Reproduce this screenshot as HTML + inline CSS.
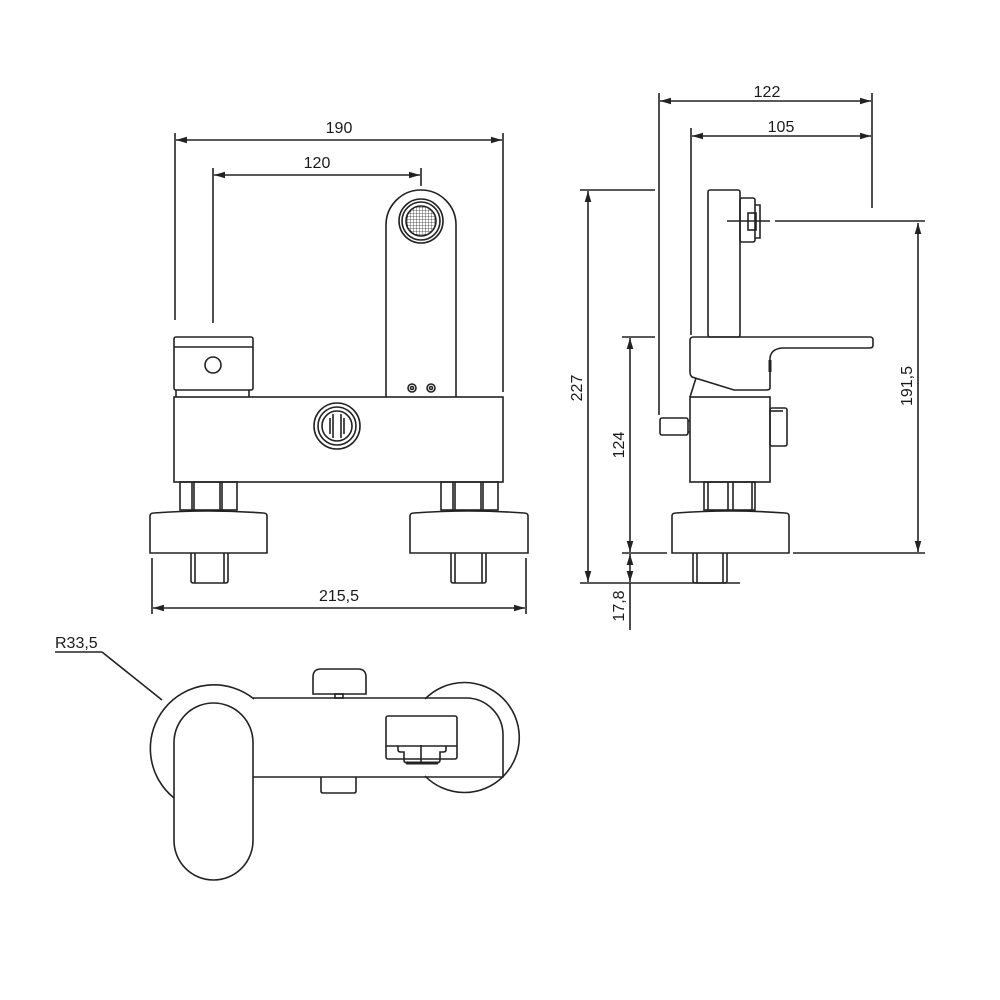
<!DOCTYPE html>
<html><head><meta charset="utf-8"><style>
html,body{margin:0;padding:0;background:#fff;}
svg{display:block;}
text{font-family:"Liberation Sans",sans-serif;font-size:16px;fill:#1a1a1a;}
</style></head><body>
<svg width="1000" height="1000" viewBox="0 0 1000 1000" xmlns="http://www.w3.org/2000/svg">
<defs>
<marker id="a" viewBox="0 0 10 10" refX="10" refY="5" markerWidth="7" markerHeight="7" orient="auto-start-reverse"><path d="M0,2 L10,5 L0,8 z" fill="#222"/></marker>
<pattern id="g" width="3" height="3" patternUnits="userSpaceOnUse"><path d="M0,0H3V3" fill="none" stroke="#333" stroke-width="0.8"/></pattern>
</defs>
<g fill="none" stroke="#222" stroke-width="1.6">
<line x1="175" y1="133" x2="175" y2="320"/>
<line x1="503" y1="133" x2="503" y2="392"/>
<line x1="176" y1="140" x2="502" y2="140" marker-start="url(#a)" marker-end="url(#a)"/>
<line x1="213" y1="168" x2="213" y2="323"/>
<line x1="421" y1="168" x2="421" y2="186"/>
<line x1="214" y1="175" x2="420" y2="175" marker-start="url(#a)" marker-end="url(#a)"/>
<line x1="152" y1="558" x2="152" y2="614"/>
<line x1="526" y1="558" x2="526" y2="614"/>
<line x1="153" y1="608" x2="525" y2="608" marker-start="url(#a)" marker-end="url(#a)"/>
<rect x="174" y="337" width="79" height="53" rx="2"/>
<line x1="174" y1="347" x2="253" y2="347"/>
<path d="M176,390 V397 M249,390 V397"/>
<circle cx="213" cy="365" r="8"/>
<path d="M386,397 V225 A35,35 0 0 1 456,225 V397"/>
<circle cx="421" cy="221" r="22"/>
<circle cx="421" cy="221" r="19"/>
<circle cx="421" cy="221" r="15" fill="url(#g)"/>
<circle cx="412" cy="388" r="4"/><circle cx="412" cy="388" r="1.5"/>
<circle cx="431" cy="388" r="4"/><circle cx="431" cy="388" r="1.5"/>
<rect x="174" y="397" width="329" height="85"/>
<circle cx="337" cy="426" r="23"/>
<circle cx="337" cy="426" r="19"/>
<circle cx="337" cy="426" r="15"/>
<path d="M333,414 V438 M341,414 V438 M330,418 V434 M344,418 V434"/>
<rect x="180" y="482" width="57" height="28"/>
<path d="M192,482 V510 M194,482 V510 M220,482 V510 M222,482 V510"/>
<rect x="441" y="482" width="57" height="28"/>
<path d="M453,482 V510 M455,482 V510 M481,482 V510 M483,482 V510"/>
<path d="M150,553 V516 Q150,513 154,513 Q208,509 263,513 Q267,513 267,516 V553 Z"/>
<path d="M410,553 V516 Q410,513 414,513 Q469,509 524,513 Q528,513 528,516 V553 Z"/>
<path d="M191,553 V581 Q191,583 194,583 H225 Q228,583 228,581 V553 M195,553 V583 M224,553 V583"/>
<path d="M451,553 V581 Q451,583 454,583 H483 Q486,583 486,581 V553 M455,553 V583 M482,553 V583"/>
<line x1="659" y1="93" x2="659" y2="415"/>
<line x1="872" y1="93" x2="872" y2="208"/>
<line x1="660" y1="101" x2="871" y2="101" marker-start="url(#a)" marker-end="url(#a)"/>
<line x1="691" y1="128" x2="691" y2="335"/>
<line x1="692" y1="136" x2="871" y2="136" marker-start="url(#a)" marker-end="url(#a)"/>
<line x1="580" y1="190" x2="655" y2="190"/>
<line x1="580" y1="583" x2="740" y2="583"/>
<line x1="588" y1="191" x2="588" y2="582" marker-start="url(#a)" marker-end="url(#a)"/>
<line x1="622" y1="337" x2="655" y2="337"/>
<line x1="622" y1="553" x2="667" y2="553"/>
<line x1="630" y1="338" x2="630" y2="552" marker-start="url(#a)" marker-end="url(#a)"/>
<line x1="630" y1="554" x2="630" y2="582" marker-start="url(#a)" marker-end="url(#a)"/>
<line x1="630" y1="583" x2="630" y2="630"/>
<line x1="793" y1="553" x2="925" y2="553"/>
<line x1="918" y1="223" x2="918" y2="552" marker-start="url(#a)" marker-end="url(#a)"/>
<path d="M727,221 H770 M775,221 H925"/>
<rect x="708" y="190" width="32" height="147" rx="2"/>
<rect x="740" y="198" width="15" height="44" rx="2"/>
<path d="M755,205 H760 V238 H755"/>
<rect x="748" y="213" width="8" height="17"/>
<path d="M690,348 V340 Q690,337 694,337 H870 Q873,337 873,340 V345 Q873,348 870,348 H782 Q771,349 770,358 V388 Q770,390 766,390 H734 L692,377 Q690,375 690,372 Z"/>
<path d="M696,378 L690,397"/>
<path d="M770,360 V372" stroke-width="3"/>
<rect x="690" y="397" width="80" height="85"/>
<rect x="660" y="418" width="28" height="17" rx="2"/>
<path d="M688,421 H690 M688,432 H690"/>
<rect x="770" y="408" width="17" height="38" rx="2"/>
<path d="M770,411 H783"/>
<rect x="704" y="482" width="51" height="28"/>
<path d="M708,482 V510 M728,482 V510 M733,482 V510 M752,482 V510"/>
<path d="M672,553 V516 Q672,513 676,513 Q730,509 785,513 Q789,513 789,516 V553 Z"/>
<path d="M693,553 V581 Q693,583 696,583 H724 Q727,583 727,581 V553 M697,553 V583 M723,553 V583"/>
<line x1="55" y1="652" x2="102" y2="652"/>
<line x1="102" y1="652" x2="162" y2="700"/>
<path d="M254,699 A54,54 0 1 0 174,798"/>
<path d="M425,699 A55,55 0 1 1 425,776"/>
<path d="M253,698 H466 A37,37 0 0 1 503,735 V777 H253"/>
<rect x="174" y="703" width="79" height="177" rx="39.5"/>
<path d="M313,694 V677 Q313,669 321,669 H358 Q366,669 366,677 V694 Z"/>
<rect x="335" y="694" width="8" height="4"/>
<path d="M321,777 V791 Q321,793 323,793 H354 Q356,793 356,791 V777"/>
<rect x="386" y="716" width="71" height="43" rx="2"/>
<path d="M386,746 H457"/>
<path d="M398,746 V750 Q398,752 401,752 H404 V760 Q404,763 408,763 H436 Q440,763 440,760 V752 H443 Q446,752 446,750 V746"/>
<path d="M421,745 V763"/>
<path d="M406,763 H438" stroke-width="3"/>
</g>
<text x="339" y="133" text-anchor="middle">190</text>
<text x="317" y="168" text-anchor="middle">120</text>
<text x="339" y="601" text-anchor="middle">215,5</text>
<text x="767" y="97" text-anchor="middle">122</text>
<text x="781" y="132" text-anchor="middle">105</text>
<text transform="translate(582,388) rotate(-90)" text-anchor="middle">227</text>
<text transform="translate(624,445) rotate(-90)" text-anchor="middle">124</text>
<text transform="translate(624,606) rotate(-90)" text-anchor="middle">17,8</text>
<text transform="translate(912,386) rotate(-90)" text-anchor="middle">191,5</text>
<text x="55" y="648">R33,5</text>
</svg>
</body></html>
